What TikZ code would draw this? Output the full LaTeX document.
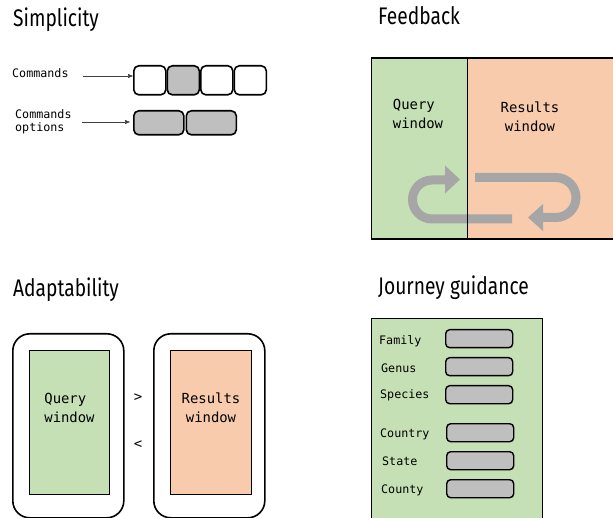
\documentclass[tikz,border=0pt]{standalone}
\usepackage{fontspec}
\setmonofont{DejaVu Sans Mono}
\newfontfamily\titlefont[FakeStretch=0.8]{Fira Sans}
\usetikzlibrary{arrows.meta}
\definecolor{qgreen}{HTML}{C5E0B4}
\definecolor{rorange}{HTML}{F8CBAD}
\definecolor{kgray}{HTML}{BFBFBF}
\definecolor{agray}{HTML}{A6A6A6}
\begin{document}
\begin{tikzpicture}[x=1pt,y=-1pt,
  title/.style={anchor=base west, inner sep=0, font=\titlefont\fontsize{24}{28}\selectfont},
  smalltxt/.style={inner sep=0, font=\ttfamily\fontsize{11.7}{13}\selectfont, align=left},
  wintxt/.style={inner sep=0, font=\ttfamily\fontsize{13.9}{19}\selectfont},
  key/.style={draw, line width=1.6pt, rounded corners=5pt},
  field/.style={draw, line width=1.4pt, rounded corners=4pt, fill=kgray},
  phone/.style={draw, line width=1.6pt, rounded corners=17pt},
  win/.style={draw, line width=1pt},
  pointer/.style={draw=black!75, line width=0.6pt, -{Triangle[length=5pt,width=4pt]}},
  loop/.style={draw=agray, line width=9pt},
  loophead/.style={fill=agray, draw=none}
]
\useasboundingbox (0,0) rectangle (613,518);

% ---------- Simplicity ----------
\node[title] (tS) at (13,27) {Simplicity};
\node[smalltxt, anchor=west] (cmd) at (12,73) {Commands};
\node[key] (k1) at (133,65) [anchor=north west, minimum width=32pt, minimum height=29pt] {};
\node[key, fill=kgray] (k2) at (166.5,65) [anchor=north west, minimum width=32pt, minimum height=29pt] {};
\node[key] (k3) at (200,65) [anchor=north west, minimum width=32pt, minimum height=29pt] {};
\node[key] (k4) at (233.5,65) [anchor=north west, minimum width=32pt, minimum height=29pt] {};
\coordinate (c1) at (83,76);
\draw[pointer] (c1) -- (k1.west |- c1);
\node[smalltxt, anchor=west] (opt) at (15,121.5) {Commands\\options};
\node[key, fill=kgray] (o1) at (133,110) [anchor=north west, minimum width=50pt, minimum height=24pt] {};
\node[key, fill=kgray] (o2) at (185.5,110) [anchor=north west, minimum width=50pt, minimum height=24pt] {};
\coordinate (c2) at (82,122);
\draw[pointer] (c2) -- ([xshift=-3pt]o1.west |- c2);

% ---------- Feedback ----------
\node[title] (tF) at (378,25) {Feedback};
\node[win, fill=qgreen, anchor=north west, minimum width=96pt, minimum height=181pt] (fq) at (371,58) {};
\node[win, fill=rorange, anchor=north west, minimum width=150pt, minimum height=181pt] (fr) at (467,58) {};
\node[wintxt, align=left] (fqt) at (418,114) {Query\\window};
\node[wintxt, align=center] (frt) at (530,117) {Results\\window};
% loop arrows
\draw[loop] (475,177.5) -- (556,177.5) arc[start angle=-90, end angle=90, radius=20] -- (540,217.5);
\fill[loophead] (528,217.5) -- (543,204) -- (543,231) -- cycle;
\draw[loop] (512,219) -- (432,219) arc[start angle=90, end angle=270, radius=19.5] -- (447,180);
\fill[loophead] (460,179.5) -- (445,165.5) -- (445,193.5) -- cycle;
\draw[line width=1pt] (371,58) rectangle (625,239);
\draw[line width=1pt] (467,58) -- (467,239);

% ---------- Adaptability ----------
\node[title] (tA) at (13,297) {Adaptability};
\node[phone, anchor=north west, minimum width=111pt, minimum height=184pt] (p1) at (12,333) {};
\node[win, fill=qgreen, anchor=north west, minimum width=80pt, minimum height=144pt] (w1) at (29,350) {};
\node[wintxt, align=left] (w1t) at (w1.center |- 0,408) {Query\\window};
\node[phone, anchor=north west, minimum width=111pt, minimum height=184pt] (p2) at (153,333) {};
\node[win, fill=rorange, anchor=north west, minimum width=81pt, minimum height=144pt] (w2) at (170,350) {};
\node[wintxt, align=center] (w2t) at (w2.center |- 0,408) {Results\\window};
\node[wintxt] (gt) at (138,398) {>};
\node[wintxt] (lt) at (138,445) {<};

% ---------- Journey guidance ----------
\node[title] (tJ) at (378,295) {Journey guidance};
\draw[line width=1pt, fill=qgreen] (371,319) -- (542,319) -- (542,530) -- (371,530) -- cycle;
\node[smalltxt, anchor=west] (lf) at (379,341) {Family};
\node[smalltxt, anchor=west] (lg) at (381,368) {Genus};
\node[smalltxt, anchor=west] (ls) at (380,395) {Species};
\node[smalltxt, anchor=west] (lc) at (380,434) {Country};
\node[smalltxt, anchor=west] (lst) at (382,461) {State};
\node[smalltxt, anchor=west] (lco) at (381,490) {County};
\node[field, anchor=north west, minimum width=67pt, minimum height=18pt] (ff) at (445,329) {};
\node[field, anchor=north west, minimum width=67pt, minimum height=18pt] (fg) at (445,357) {};
\node[field, anchor=north west, minimum width=67pt, minimum height=18pt] (fs) at (445,385) {};
\node[field, anchor=north west, minimum width=67pt, minimum height=18pt] (fc) at (446,423) {};
\node[field, anchor=north west, minimum width=67pt, minimum height=18pt] (fst) at (446,451) {};
\node[field, anchor=north west, minimum width=67pt, minimum height=18pt] (fco) at (446,479) {};
\end{tikzpicture}
\end{document}
